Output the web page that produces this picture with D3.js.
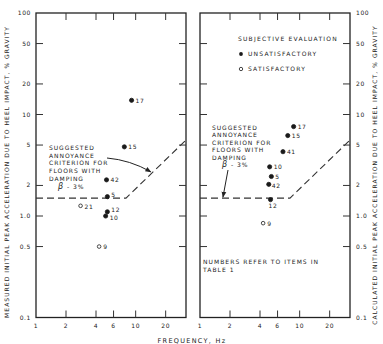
<!DOCTYPE html>
<html>
<head>
<meta charset="utf-8">
<script src="https://cdn.jsdelivr.net/npm/d3@7"></script>
<style>
  body { margin: 0; background: #fff; }
  svg text { font-family: "DejaVu Sans", sans-serif; fill: #222; }
</style>
</head>
<body>
<div id="chart"></div>
<script>
// measured (left panel)
var measuredItems = ["17", "15", "42", "5", "12", "10", "21", "9"];
var measuredFreq  = [9.1, 7.7, 5.1, 5.2, 5.2, 5.0, 2.8, 4.3];
var measuredAcc   = [13.8, 4.8, 2.27, 1.55, 1.1, 1.0, 1.26, 0.5];
var measuredSat   = [false, false, false, false, false, false, true, true];

// calculated (right panel)
var calcItems = ["17", "15", "41", "10", "5", "42", "12", "9"];
var calcFreq  = [8.7, 7.6, 6.8, 5.0, 5.2, 4.9, 5.1, 4.3];
var calcAcc   = [7.6, 6.2, 4.3, 3.05, 2.45, 2.05, 1.45, 0.85];
var calcSat   = [false, false, false, false, false, false, false, true];

// suggested annoyance criterion, damping 3%
var criterionFreq = [1, 8, 32];
var criterionAcc  = [1.5, 1.5, 5.6];

var xTicks = [2, 4, 6, 10, 20];
var xTickLabels = ["1", "2", "4", "6", "10", "20"];
var yTicks = [50, 20, 10, 5, 2, 1, 0.5];
var yTickLabels = [100, 50, 20, 10, 5, 2, 1, 0.5, 0.1];
var yFmt = function(d) { return d === 1 ? "1.0" : d === 0.5 ? "0.5" : d === 0.1 ? "0.1" : String(d); };

var width = 383, height = 344;

var svg = d3.select("#chart").append("svg")
  .attr("width", width)
  .attr("height", height);

svg.append("defs").append("marker")
  .attr("id", "arrow")
  .attr("viewBox", "0 0 10 10")
  .attr("refX", 9).attr("refY", 5)
  .attr("markerWidth", 6).attr("markerHeight", 6)
  .attr("orient", "auto")
  .append("path").attr("d", "M0,1 L10,5 L0,9 Z").attr("fill", "#222");

var y = d3.scaleLog().domain([0.1, 100]).range([317.5, 13]);

function panel(x0, x1, freq, acc, sat, items, labelOffsets) {
  var x = d3.scaleLog().domain([1, 32]).range([x0, x1]);
  var g = svg.append("g");

  g.append("rect")
    .attr("x", x0).attr("y", y(100))
    .attr("width", x1 - x0).attr("height", y(0.1) - y(100))
    .attr("fill", "none").attr("stroke", "#222").attr("stroke-width", 1.3);

  // inward ticks
  g.selectAll(".xt").data(xTicks).enter().append("line")
    .attr("x1", function(d) { return x(d); }).attr("x2", function(d) { return x(d); })
    .attr("y1", y(0.1)).attr("y2", y(0.1) - 7)
    .attr("stroke", "#333").attr("stroke-width", 1);
  g.selectAll(".xtt").data(xTicks).enter().append("line")
    .attr("x1", function(d) { return x(d); }).attr("x2", function(d) { return x(d); })
    .attr("y1", y(100)).attr("y2", y(100) + 7)
    .attr("stroke", "#333").attr("stroke-width", 1);
  g.selectAll(".yt").data(yTicks).enter().append("line")
    .attr("x1", x0).attr("x2", x0 + 7)
    .attr("y1", function(d) { return y(d); }).attr("y2", function(d) { return y(d); })
    .attr("stroke", "#333").attr("stroke-width", 1);
  g.selectAll(".ytr").data(yTicks).enter().append("line")
    .attr("x1", x1).attr("x2", x1 - 7)
    .attr("y1", function(d) { return y(d); }).attr("y2", function(d) { return y(d); })
    .attr("stroke", "#333").attr("stroke-width", 1);

  g.selectAll(".xl").data(xTickLabels).enter().append("text")
    .attr("x", function(d) { return x(+d); })
    .attr("y", 328)
    .attr("text-anchor", "middle")
    .style("font-size", "6px").style("letter-spacing", "0.6px")
    .text(function(d) { return d; });

  // criterion line
  var line = d3.line()
    .x(function(d, i) { return x(criterionFreq[i]); })
    .y(function(d, i) { return y(criterionAcc[i]); });
  g.append("path")
    .datum(criterionFreq)
    .attr("d", line)
    .attr("fill", "none").attr("stroke", "#333")
    .attr("stroke-width", 1.1).attr("stroke-dasharray", "7,4");

  // points
  var idx = d3.range(freq.length);
  g.selectAll(".pt").data(idx).enter().append("circle")
    .attr("cx", function(i) { return x(freq[i]); })
    .attr("cy", function(i) { return y(acc[i]); })
    .attr("r", function(i) { return sat[i] ? 1.8 : 2.1; })
    .attr("fill", function(i) { return sat[i] ? "#fff" : "#1a1a1a"; })
    .attr("stroke", "#1a1a1a").attr("stroke-width", 0.8);

  g.selectAll(".pl").data(idx).enter().append("text")
    .attr("x", function(i) { return x(freq[i]) + labelOffsets[i][0]; })
    .attr("y", function(i) { return y(acc[i]) + labelOffsets[i][1]; })
    .style("font-size", "6px").style("letter-spacing", "0.6px")
    .text(function(i) { return items[i]; });

  return x;
}

var xl = panel(36, 186, measuredFreq, measuredAcc, measuredSat, measuredItems,
  [[4, 2.5], [4, 2.5], [4, 2.5], [4, 0], [4, 0], [4, 4], [4, 3], [4, 2.5]]);
var xr = panel(200, 350, calcFreq, calcAcc, calcSat, calcItems,
  [[4, 2.5], [4, 2.5], [4, 2.5], [4, 2.5], [4, 2.5], [3, 4], [-2, 8], [4, 3]]);

// y tick labels
svg.selectAll(".yl").data(yTickLabels).enter().append("text")
  .attr("x", 31).attr("y", function(d) { return y(d) + 2; })
  .attr("text-anchor", "end")
  .style("font-size", "6px").style("letter-spacing", "0.6px")
  .text(yFmt);
svg.selectAll(".yr").data(yTickLabels).enter().append("text")
  .attr("x", 356).attr("y", function(d) { return y(d) + 2; })
  .style("font-size", "6px").style("letter-spacing", "0.6px")
  .text(yFmt);

// axis titles
svg.append("text")
  .attr("transform", "translate(9,172) rotate(-90)")
  .attr("text-anchor", "middle")
  .style("font-size", "6px").style("letter-spacing", "1.05px")
  .text("MEASURED INITIAL PEAK ACCELERATION DUE TO HEEL IMPACT, % GRAVITY");
svg.append("text")
  .attr("transform", "translate(377,175) rotate(-90)")
  .attr("text-anchor", "middle")
  .style("font-size", "6px").style("letter-spacing", "1.05px")
  .text("CALCULATED INITIAL PEAK ACCELERATION DUE TO HEEL IMPACT, % GRAVITY");
svg.append("text")
  .attr("x", 192).attr("y", 342.5)
  .attr("text-anchor", "middle")
  .style("font-size", "6.5px").style("letter-spacing", "1.3px")
  .text("FREQUENCY, Hz");

// annotations
var annot = ["SUGGESTED", "ANNOYANCE", "CRITERION FOR", "FLOORS WITH", "DAMPING"];
function annotation(ax, ay, dy, betaX) {
  var t = svg.append("g").style("font-size", "6px").style("letter-spacing", "0.95px");
  annot.forEach(function(s, i) {
    t.append("text").attr("x", ax).attr("y", ay + i * dy).text(s);
  });
  t.append("text").attr("x", betaX).attr("y", ay + 5 * dy)
    .html('<tspan style="font-style:italic;font-size:8px">β</tspan> - 3%');
}
annotation(49, 150, 7.7, 58);
annotation(212, 130, 7.4, 222);

// arrows to the criterion line
var lf = 14.2, la = 1.5 * lf / 8;
svg.append("path")
  .attr("d", "M107,158 Q130,160 " + xl(lf) + "," + (y(la) - 1))
  .attr("fill", "none").attr("stroke", "#222").attr("stroke-width", 1)
  .attr("marker-end", "url(#arrow)");
svg.append("path")
  .attr("d", "M228,170 L" + xr(1.7) + "," + (y(1.5) - 1))
  .attr("fill", "none").attr("stroke", "#222").attr("stroke-width", 1)
  .attr("marker-end", "url(#arrow)");

// legend
var lg = svg.append("g").style("font-size", "6px").style("letter-spacing", "1.2px");
lg.append("text").attr("x", 238).attr("y", 41).text("SUBJECTIVE EVALUATION");
lg.append("circle").attr("cx", 241).attr("cy", 54).attr("r", 1.9).attr("fill", "#1a1a1a");
lg.append("text").attr("x", 248).attr("y", 56).text("UNSATISFACTORY");
lg.append("circle").attr("cx", 241).attr("cy", 69).attr("r", 1.7)
  .attr("fill", "#fff").attr("stroke", "#1a1a1a").attr("stroke-width", 0.8);
lg.append("text").attr("x", 248).attr("y", 71).text("SATISFACTORY");

lg.append("text").attr("x", 203).attr("y", 264).style("letter-spacing", "1.05px").text("NUMBERS REFER TO ITEMS IN");
lg.append("text").attr("x", 203).attr("y", 272).style("letter-spacing", "1.05px").text("TABLE 1");
</script>
</body>
</html>
